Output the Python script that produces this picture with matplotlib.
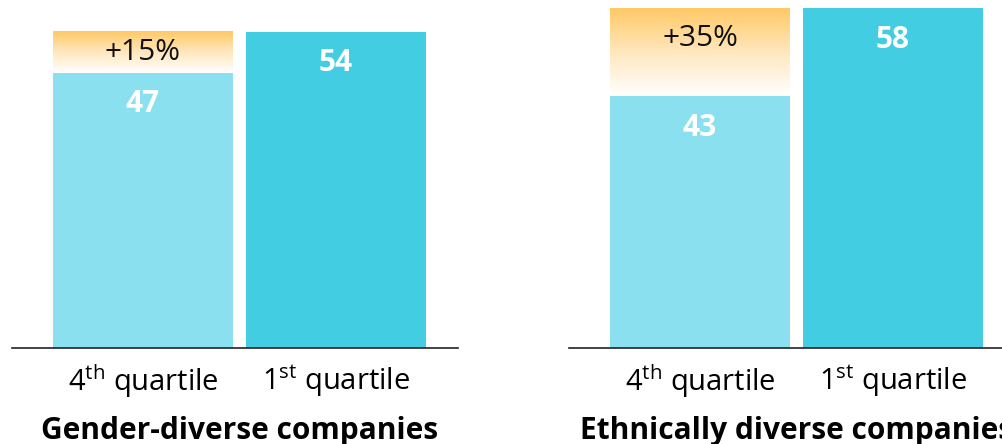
import numpy as np
import matplotlib.pyplot as plt
from matplotlib.colors import LinearSegmentedColormap

plt.rcParams['font.family'] = ['Open Sans', 'DejaVu Sans']
plt.rcParams['mathtext.fontset'] = 'custom'
plt.rcParams['mathtext.rm'] = 'Open Sans'

# data
panels = ['Gender-diverse companies', 'Ethnically diverse companies']
quartiles = [r'4$^{\mathrm{th}}$ quartile', r'1$^{\mathrm{st}}$ quartile']
bottom_q = [47, 43]    # 4th quartile
top_q = [54, 58]       # 1st quartile
uplift = ['+15%', '+35%']
uplift_offset = [-21, -30]   # px below top of gradient

light = '#8AE0EF'
dark = '#43CDE3'
grad = LinearSegmentedColormap.from_list('g', ['#FFFFFF', '#FFE7BE', '#FFC966'])

W, H = 1003, 444
fig = plt.figure(figsize=(W / 100, H / 100), dpi=100)

px = 72 / 100  # points per pixel
width = 180 / 193
xlim = (-131 / 193, 315 / 193)
ylim = (0, 348 / 5.86)
lefts = [12, 569]

for i in range(2):
    ax = fig.add_axes([lefts[i] / W, 96 / H, 446 / W, 348 / H])
    x = np.arange(2)
    vals = [bottom_q[i], top_q[i]]
    ax.bar(x, vals, width=width, color=[light, dark], zorder=2)

    # gradient region on top of 4th quartile bar
    g = np.linspace(0, 1, 256).reshape(-1, 1)
    ax.imshow(g, cmap=grad, origin='lower', aspect='auto', zorder=1,
              extent=[x[0] - width / 2, x[0] + width / 2, bottom_q[i], top_q[i]])

    for xi, v in zip(x, vals):
        ax.annotate(str(v), (xi, v), xytext=(0, -31.5 * px), textcoords='offset points',
                    ha='center', va='center', color='white', fontsize=21.5,
                    fontweight='bold')
    ax.annotate(uplift[i], (x[0], top_q[i]), xytext=(0, uplift_offset[i] * px),
                textcoords='offset points', ha='center', va='center',
                color='#111111', fontsize=21.5)

    ax.set_xlim(*xlim)
    ax.set_ylim(*ylim)
    ax.set_xticks(x)
    ax.set_xticklabels(quartiles, fontsize=21)
    ax.tick_params(axis='x', length=0, pad=10.5)
    ax.set_yticks([])
    for s in ['top', 'left', 'right']:
        ax.spines[s].set_visible(False)
    ax.spines['bottom'].set_linewidth(1.2)
    ax.spines['bottom'].set_color('#222222')
    ax.patch.set_alpha(0)

    ax.annotate(panels[i], (0.5, 0), xycoords=('data', 'axes fraction'),
                xytext=(0, -83 * px), textcoords='offset points',
                ha='center', va='center', fontsize=21.5, fontweight='bold',
                annotation_clip=False)

fig.savefig('out.png', dpi=100)
